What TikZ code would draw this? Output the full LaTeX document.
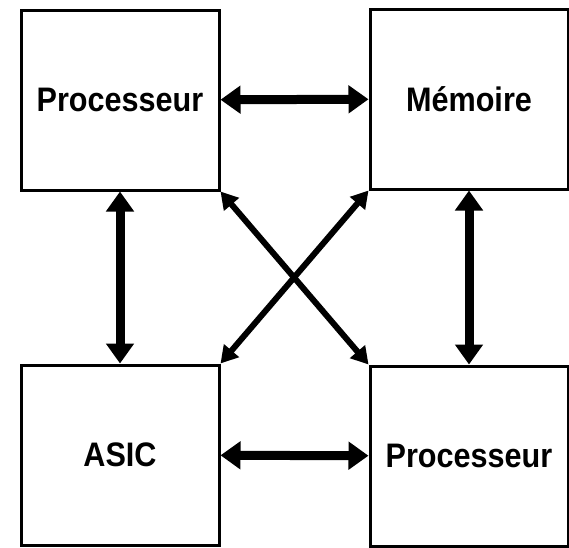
\documentclass[tikz,border=0pt]{standalone}
\usepackage{fontspec}
\setmainfont[FakeStretch=0.9]{Liberation Sans Bold}
\usetikzlibrary{arrows.meta}

\begin{document}
\begin{tikzpicture}[x=1pt, y=-1pt,
    bloc/.style={rectangle, draw=black, line width=3pt, minimum width=198pt, minimum height=180pt, font=\fontsize{34}{40}\selectfont},
    lien/.style={line width=9pt, {Triangle[length=20pt,width=27pt]}-{Triangle[length=20pt,width=27pt]}},
    croix/.style={line width=6pt, {Triangle[length=17pt,width=19pt]}-{Triangle[length=17pt,width=19pt]}}]
        \useasboundingbox (0,0) rectangle (569,547);

        \node[bloc] (proc1) at(120,100){Processeur};
        \node[bloc] (memoire) at(469,99){Mémoire};
        \node[bloc] (asic) at(120,455){ASIC};
        \node[bloc] (proc2) at(469,456){Processeur};

        \draw [lien] (proc1) -- (memoire);
        \draw [lien] (asic) -- (proc2);

        \draw [lien] (proc1) -- (asic);
        \draw [lien] (memoire) -- (proc2);

        \draw [croix] (proc1.south east) -- (proc2.north west);
        \draw [croix] (asic.north east) -- (memoire.south west);
      \end{tikzpicture}
\end{document}
